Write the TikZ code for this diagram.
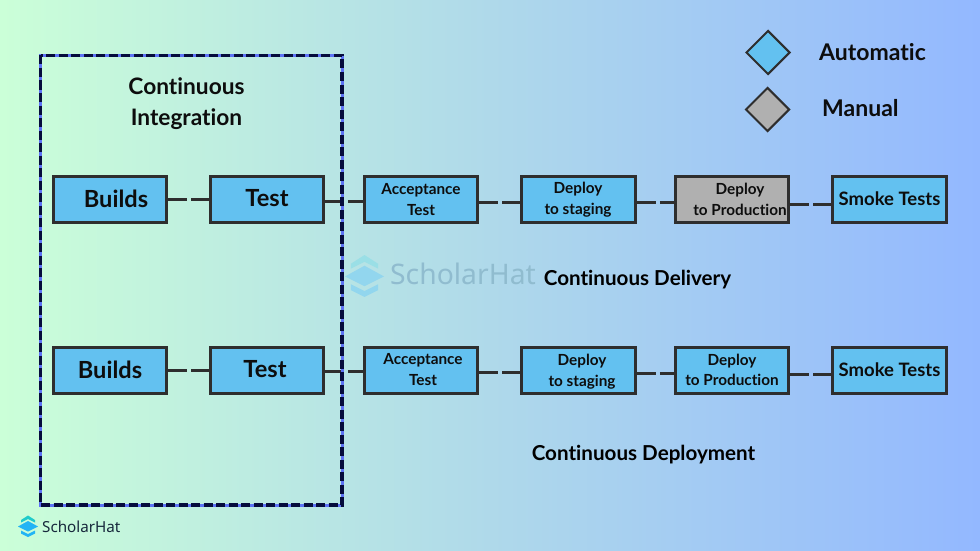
\documentclass[tikz,border=0pt]{standalone}
\usepackage{fontspec}
\setmainfont{Lato}[BoldFont={Lato Bold},Ligatures=NoCommon]
\newfontfamily\logofont{Noto Sans}
\usetikzlibrary{shapes.geometric}
\definecolor{bgl}{HTML}{CBFFD8}
\definecolor{bgm}{HTML}{AFD9EA}
\definecolor{bgr}{HTML}{93B8FF}
\definecolor{boxblue}{HTML}{63C1F0}
\definecolor{ink}{HTML}{2E2E2E}
\definecolor{navy}{HTML}{050C3C}
\definecolor{framelight}{HTML}{5C72F5}
\definecolor{logotop}{HTML}{1FCBCB}
\definecolor{logomain}{HTML}{22B4F5}
\definecolor{wmtop}{HTML}{9ADFE6}
\definecolor{wmmain}{HTML}{92D6EE}
\definecolor{wmtext}{HTML}{90BCCF}
\definecolor{logotext}{HTML}{17283C}
\newcommand{\stacklogo}[5]{%
  \begin{scope}[shift={(#1,#2)},scale=#3]
    \fill[#4] (3,4.5)--(10,0)--(17,4.5)--(17,7)--(10,3.5)--(3,7)--cycle;
    \fill[#5] (0,11)--(10,5.5)--(20,11)--(10,16)--cycle;
    \fill[#5] (3,15)--(10,18.5)--(17,15)--(17,18)--(10,21.5)--(3,18)--cycle;
  \end{scope}}
\tikzset{
  x=1pt,y=-1pt,
  stage/.style={draw=ink,line width=3.2pt,fill=boxblue,minimum width=113.5pt,minimum height=46.5pt,inner sep=0pt},
  manualstage/.style={stage,fill=black!31},
  big/.style={font=\bfseries\fontsize{23.6}{25}\selectfont,text=black!95},
  small/.style={font=\bfseries\fontsize{15.3}{17}\selectfont,text=black!95,align=center},
  smoke/.style={font=\bfseries\fontsize{18.5}{20}\selectfont,text=black!95},
  heading/.style={font=\bfseries\fontsize{22.7}{31}\selectfont,text=black!95,align=center},
  caption/.style={font=\bfseries\fontsize{20.6}{22}\selectfont,text=black},
  link/.style={draw=ink,line width=3pt,dash pattern=on 19pt off 4pt},
  legend/.style={diamond,draw=ink,line width=2pt,minimum width=44pt,minimum height=44pt,inner sep=0pt,aspect=1},
}
\begin{document}
\begin{tikzpicture}
\useasboundingbox (0,0) rectangle (980,551);
\shade[left color=bgl,right color=bgr,middle color=bgm] (0,0) rectangle (980,551);

% watermark
\stacklogo{345}{255}{1.95}{wmtop}{wmmain}
\node[anchor=west,inner sep=0pt,text=wmtext] (wm) at (390,274) {\logofont\bfseries\fontsize{28.3}{30}\selectfont ScholarHat};

% row 1
\node[stage] (b1) at (110,199.5) {};
\node[stage] (t1) at (267,199.5) {};
\node[stage] (a1) at (421,199.5) {};
\node[stage] (d1) at (578.5,199.5) {};
\node[manualstage] (p1) at (732,199.5) {};
\node[stage] (s1) at (889.5,199.5) {};
% row 2
\node[stage] (b2) at (110,370.5) {};
\node[stage] (t2) at (267,370.5) {};
\node[stage] (a2) at (421,370.5) {};
\node[stage] (d2) at (578.5,370.5) {};
\node[stage] (p2) at (732,370.5) {};
\node[stage] (s2) at (889.5,370.5) {};

% labels row 1
\node[big] (lb1) at (116,198.5) {Builds};
\node[big] (lt1) at (267,198.5) {Test};
\node[small] (la1) at (421,199.5) {Acceptance\\[3.5pt]Test};
\node[small] (ld1) at (578,199.5) {Deploy\\[3.5pt]to staging};
\node[small] (lp1) at (740,199.5) {Deploy\\[3.5pt]to Production};
\node[smoke] (ls1) at (889.5,198.5) {Smoke Tests};
% labels row 2
\node[big] (lb2) at (110,369.5) {Builds};
\node[big] (lt2) at (265,369.5) {Test};
\node[small] (la2) at (423,369.5) {Acceptance\\[3.5pt]Test};
\node[small] (ld2) at (582,371.5) {Deploy\\[3.5pt]to staging};
\node[small] (lp2) at (732,370) {Deploy\\[3.5pt]to Production};
\node[smoke] (ls2) at (889.5,369.5) {Smoke Tests};

% connectors
\draw[link] (b1.east) -- (t1.west);
\draw[link] ([yshift=-1.5pt]t1.east) -- ([yshift=-1.5pt]a1.west);
\draw[link] ([yshift=-2.5pt]a1.east) -- ([yshift=-2.5pt]d1.west);
\draw[link] ([yshift=-2.5pt]d1.east) -- ([yshift=-2.5pt]p1.west);
\draw[link] ([yshift=-4.5pt]p1.east) -- ([yshift=-4.5pt]s1.west);
\draw[link] (b2.east) -- (t2.west);
\draw[link] ([yshift=-1pt]t2.east) -- ([yshift=-1pt]a2.west);
\draw[link] ([yshift=-2pt]a2.east) -- ([yshift=-2pt]d2.west);
\draw[link] ([yshift=-2.5pt]d2.east) -- ([yshift=-2.5pt]p2.west);
\draw[link] ([yshift=-3.5pt]p2.east) -- ([yshift=-3.5pt]s2.west);

% CI frame
\draw[framelight,line width=3pt] (40.5,55.5) rectangle (342,505);
\draw[navy,line width=3.5pt,dash pattern=on 9pt off 3.5pt] (40.5,55.5) rectangle (342,505);
\node[heading] (ci) at (186.5,104) {Continuous\\Integration};

% captions
\node[caption] (cd) at (637.5,280) {Continuous Delivery};
\node[caption] (cdp) at (643.5,454.5) {Continuous Deployment};

% legend
\node[legend,fill=boxblue] (da) at (768,52.5) {};
\node[legend,fill=black!31] (dm) at (767.5,109.5) {};
\node[heading,anchor=west,inner sep=0pt,font=\bfseries\fontsize{23}{25}\selectfont] (la) at (819,52) {Automatic};
\node[heading,anchor=west,inner sep=0pt,font=\bfseries\fontsize{23}{25}\selectfont] (lm) at (822,108) {Manual};

% bottom logo
\stacklogo{18}{515.5}{1}{logotop}{logomain}
\node[anchor=west,inner sep=0pt,text=logotext] (sh) at (42,526.5) {\logofont\fontsize{15.2}{18}\selectfont\bfseries ScholarHat};
\end{tikzpicture}
\end{document}
